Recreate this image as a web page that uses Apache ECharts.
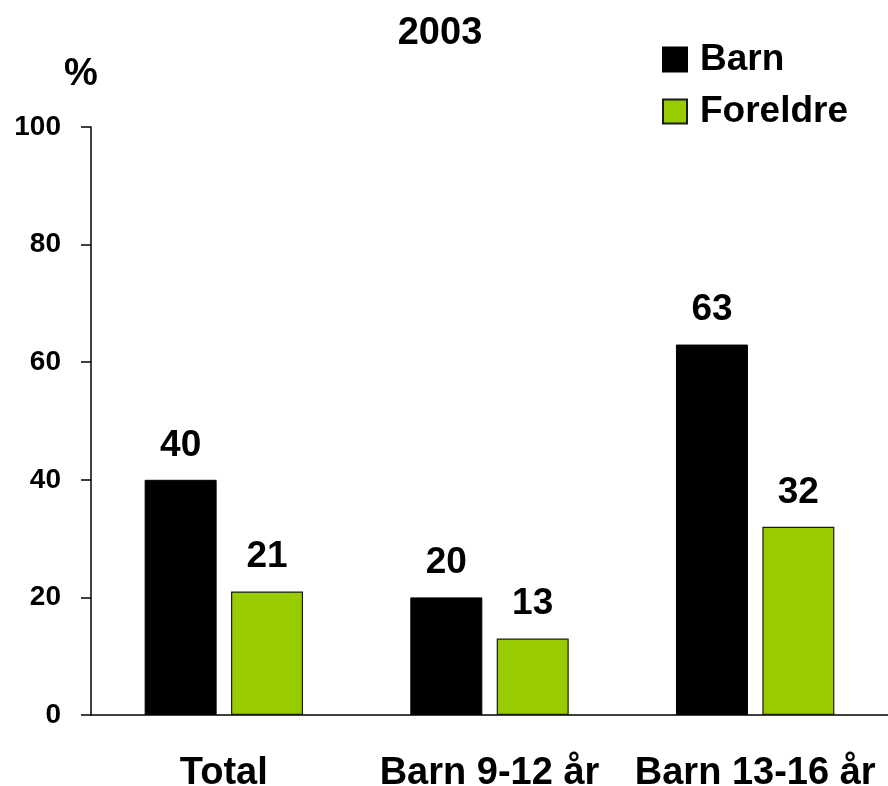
<!DOCTYPE html>
<html><head><meta charset="utf-8">
<script src="https://cdn.jsdelivr.net/npm/echarts@6/dist/echarts.min.js"></script>
<style>html,body{margin:0;padding:0;background:#fff}#c{width:888px;height:786px}</style>
</head><body><div id="c"></div>
<script>
const categories = ['Total', 'Barn 9-12 år', 'Barn 13-16 år'];
const barn = [40, 20, 63];
const foreldre = [21, 13, 32];
const yTicks = [0, 20, 40, 60, 80, 100];

const font = '"Liberation Sans", Arial, sans-serif';
const chart = echarts.init(document.getElementById('c'));
const lbl = {show: true, position: 'top', distance: 16, fontFamily: font, fontWeight: 'bold', fontSize: 37, color: '#000'};
chart.setOption({
  animation: false,
  title: [
    {text: '2003', left: 435, top: 10, textAlign: 'center', textStyle: {fontFamily: font, fontWeight: 'bold', fontSize: 38, color: '#000'}},
    {text: '%', left: 76, top: 51, textAlign: 'center', textStyle: {fontFamily: font, fontWeight: 'bold', fontSize: 38, color: '#000'}}
  ],
  legend: {
    orient: 'vertical', left: 657, top: 36, itemWidth: 24, itemHeight: 24, itemGap: 15, icon: 'rect',
    textStyle: {fontFamily: font, fontWeight: 'bold', fontSize: 37, color: '#000', padding: [0, 0, 0, 8]},
    data: ['Barn', 'Foreldre']
  },
  grid: {left: 91, right: 0, top: 127, bottom: 71, containLabel: false, outerBoundsMode: 'none'},
  xAxis: {
    type: 'category', data: categories,
    axisLine: {lineStyle: {color: '#000', width: 1.5}},
    axisTick: {length: 10, lineStyle: {color: '#000', width: 1.5}},
    axisLabel: {margin: 40, fontFamily: font, fontWeight: 'bold', fontSize: 38, color: '#000', interval: 0}
  },
  yAxis: {
    type: 'value', min: yTicks[0], max: yTicks[yTicks.length - 1], interval: 20,
    axisLine: {show: true, lineStyle: {color: '#000', width: 1.5}},
    axisTick: {show: true, length: 10, lineStyle: {color: '#000', width: 1.5}},
    splitLine: {show: false},
    axisLabel: {margin: 30, fontFamily: font, fontWeight: 'bold', fontSize: 28, color: '#000'}
  },
  series: [
    {name: 'Barn', type: 'bar', data: barn, barWidth: 72, barGap: '20%',
     itemStyle: {color: '#000', borderColor: '#000', borderWidth: 1}, label: lbl},
    {name: 'Foreldre', type: 'bar', data: foreldre, barWidth: 72,
     itemStyle: {color: '#99cc00', borderColor: '#1a1a1a', borderWidth: 1.2}, label: lbl}
  ]
});
</script></body></html>
